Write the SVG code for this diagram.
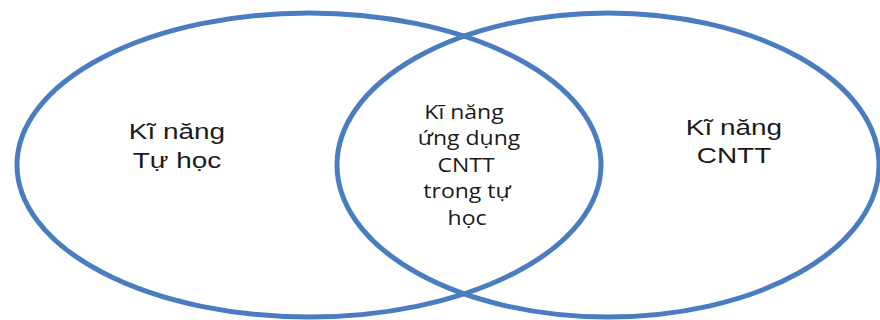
<svg xmlns="http://www.w3.org/2000/svg" width="880" height="320" viewBox="0 0 880 320">
<style>
.ring{fill:none;stroke:#4a7dbf;stroke-width:5}
.lbl{font-family:"Liberation Sans",Arial,sans-serif;font-size:21.5px;fill:#1a1a1a;text-anchor:middle}
.mid{font-family:"Open Sans","Liberation Sans",sans-serif;font-size:19.5px;fill:#1a1a1a;text-anchor:middle}
</style>
<rect width="880" height="320" fill="#ffffff"/>
<g id="set-left">
<ellipse class="ring" cx="309" cy="165" rx="292" ry="152"/>
<text class="lbl" transform="translate(177,139) scale(1.3,1)">Kĩ năng</text>
<text class="lbl" transform="translate(177,168) scale(1.3,1)">Tự học</text>
</g>
<g id="set-right">
<ellipse class="ring" cx="608" cy="165" rx="271" ry="152"/>
<text class="lbl" transform="translate(734,135) scale(1.3,1)">Kĩ năng</text>
<text class="lbl" transform="translate(734,163) scale(1.3,1)">CNTT</text>
</g>
<g id="intersection">
<text class="mid" transform="translate(464,119) scale(1.18,1)">Kĩ năng</text>
<text class="mid" transform="translate(469,145) scale(1.18,1)">ứng dụng</text>
<text class="mid" transform="translate(466,172) scale(1.18,1)">CNTT</text>
<text class="mid" transform="translate(467,198) scale(1.18,1)">trong tự</text>
<text class="mid" transform="translate(467,225) scale(1.18,1)">học</text>
</g>
<g id="connectors"></g>
</svg>
